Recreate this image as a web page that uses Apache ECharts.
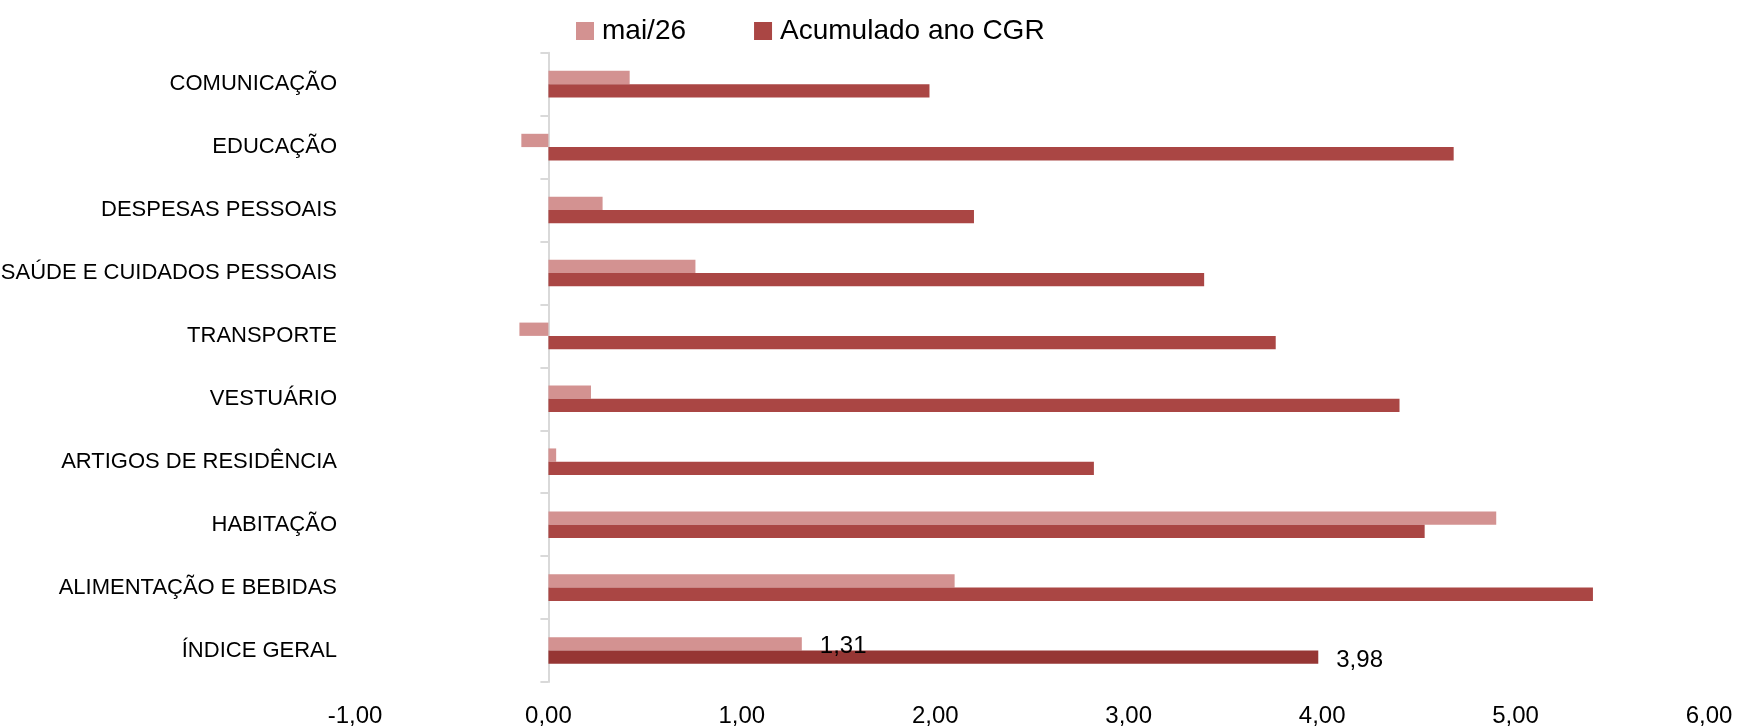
<!DOCTYPE html>
<html>
<head>
<meta charset="utf-8">
<script src="https://cdn.jsdelivr.net/npm/echarts@6/dist/echarts.min.js"></script>
<style>
html,body{margin:0;padding:0;background:#fff;}
#chart{width:1741px;height:728px;}
</style>
</head>
<body>
<div id="chart"></div>
<script>
const categories = ['ÍNDICE GERAL','ALIMENTAÇÃO E BEBIDAS','HABITAÇÃO','ARTIGOS DE RESIDÊNCIA','VESTUÁRIO','TRANSPORTE','SAÚDE E CUIDADOS PESSOAIS','DESPESAS PESSOAIS','EDUCAÇÃO','COMUNICAÇÃO'];
const maiValues = [1.31, 2.10, 4.90, 0.04, 0.22, -0.15, 0.76, 0.28, -0.14, 0.42];
const acumValues = [3.98, 5.40, 4.53, 2.82, 4.40, 3.76, 3.39, 2.20, 4.68, 1.97];
const seriesNames = ['mai/26', 'Acumulado ano CGR'];
const xTicks = {min: -1, max: 6, interval: 1};

const fmt = v => v.toFixed(2).replace('.', ',');
const FONT = 'Liberation Sans';

const chart = echarts.init(document.getElementById('chart'));
chart.setOption({
  animation: false,
  textStyle: {fontFamily: FONT},
  legend: {
    data: seriesNames,
    left: 571, top: 12,
    itemWidth: 18, itemHeight: 18, itemGap: 68,
    icon: 'rect',
    textStyle: {fontSize: 28, color: '#000', fontFamily: FONT, padding: [0,0,0,3]}
  },
  grid: {left: 355, right: 32, top: 52.7, bottom: 46, containLabel: false, outerBoundsMode: 'none'},
  xAxis: {
    type: 'value', min: xTicks.min, max: xTicks.max, interval: xTicks.interval,
    axisLine: {show: false}, axisTick: {show: false}, splitLine: {show: false},
    axisLabel: {formatter: fmt, fontSize: 24, color: '#000', margin: 22, fontFamily: FONT}
  },
  yAxis: {
    type: 'category', data: categories,
    axisLine: {show: true, onZero: true, lineStyle: {color: '#d9d9d9', width: 2}},
    axisTick: {show: true, length: 8, lineStyle: {color: '#d9d9d9', width: 2}},
    axisLabel: {fontSize: 22, color: '#000', margin: 18, fontFamily: FONT}
  },
  series: [
    {
      name: seriesNames[0], type: 'bar', barWidth: 13.3, barGap: '0%',
      itemStyle: {color: '#D39291'},
      data: maiValues.map((v, i) => i === 0 ? {value: v, label: {show: true, position: 'right', distance: 18, offset: [0, 2], formatter: p => fmt(p.value), fontSize: 24, color: '#000', fontFamily: FONT}} : v)
    },
    {
      name: seriesNames[1], type: 'bar', barWidth: 13.3, barGap: '0%',
      itemStyle: {color: '#AA4644'},
      data: acumValues.map((v, i) => i === 0 ? {value: v, itemStyle: {color: '#963634'}, label: {show: true, position: 'right', distance: 18, offset: [0, 3], formatter: p => fmt(p.value), fontSize: 24, color: '#000', fontFamily: FONT}} : v)
    }
  ]
});
</script>
</body>
</html>
